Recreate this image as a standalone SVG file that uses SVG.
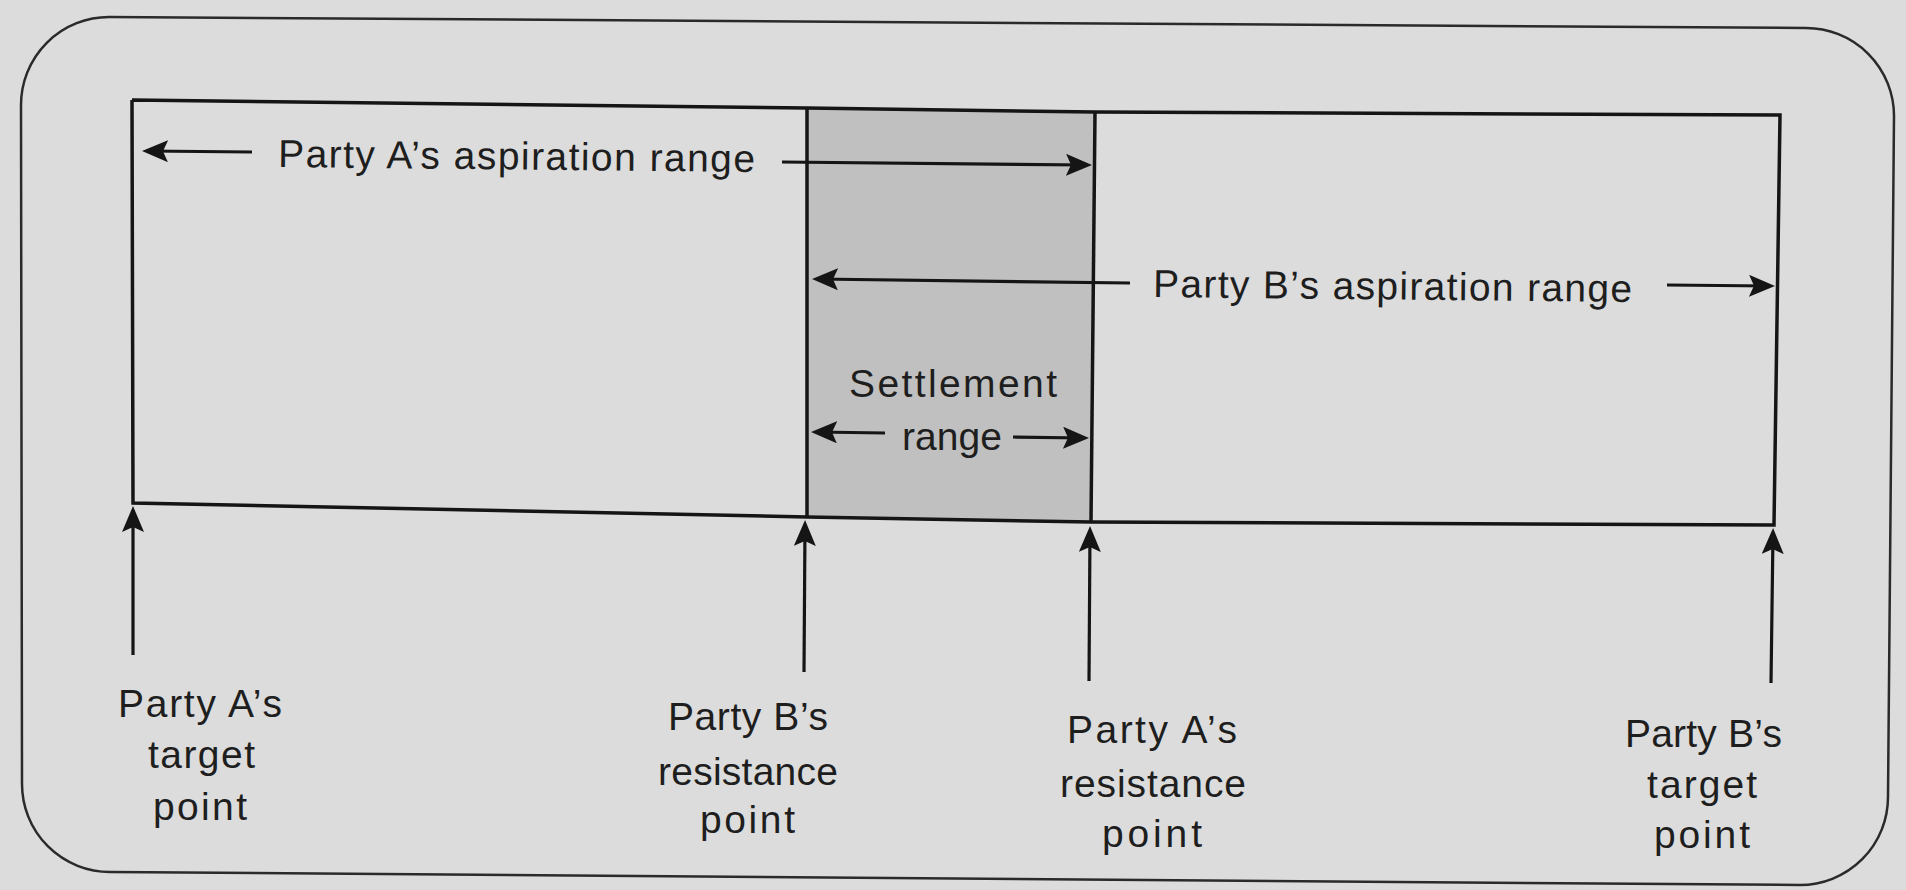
<svg xmlns="http://www.w3.org/2000/svg" width="1906" height="890" viewBox="0 0 1906 890">
  <style>
    .frame { fill: none; stroke: #2a2a2a; stroke-width: 2.5; }
    .edge { fill: none; stroke: #151515; stroke-width: 3.5; stroke-linejoin: miter; }
    .zone { fill: #c0c0c0; stroke: none; }
    .arrow { fill: none; stroke: #151515; stroke-width: 3.2; marker-end: url(#head); }
    .lbl { font-family: "Liberation Sans", Arial, sans-serif; font-size: 39px; fill: #1e1e1e; }
  </style>
  <defs>
    <marker id="head" markerUnits="userSpaceOnUse" markerWidth="28" markerHeight="24" refX="21" refY="11" orient="auto" viewBox="0 0 28 24">
      <path d="M0,0 L26,11 L0,22 L5,11 Z" fill="#151515"/>
    </marker>
  </defs>

  <!-- paper -->
  <rect x="0" y="0" width="1906" height="890" fill="#dcdcdc"/>

  <!-- rounded outer frame -->
  <g id="frame">
    <path class="frame" d="M21,105 A88,88 0 0 1 109,17 L1806,28 A88,88 0 0 1 1894,116 L1888,797 A88,88 0 0 1 1800,885 L110,872 A88,88 0 0 1 22,784 Z"/>
  </g>

  <!-- bargaining bar with the overlap zone -->
  <g id="bar">
    <polygon id="settlement-zone" class="zone" points="807,108 1095,112 1091,522 807,517"/>
    <polyline class="edge" points="132,100 807,108 1095,112 1780,115 1774,525 1091,522 807,517 133,503 132,100"/>
    <line class="edge" x1="807" y1="108" x2="807" y2="517"/>
    <line class="edge" x1="1095" y1="112" x2="1091" y2="522"/>
  </g>

  <!-- range and point arrows -->
  <g id="connectors">
    <line class="arrow" x1="252" y1="152" x2="147" y2="151"/>
    <line class="arrow" x1="782" y1="162" x2="1087" y2="165"/>
    <line class="arrow" x1="1130" y1="283" x2="817" y2="279"/>
    <line class="arrow" x1="1667" y1="285" x2="1770" y2="286"/>
    <line class="arrow" x1="885" y1="433" x2="816" y2="432"/>
    <line class="arrow" x1="1013" y1="437" x2="1084" y2="438"/>
    <line class="arrow" x1="133" y1="655" x2="133" y2="511"/>
    <line class="arrow" x1="804" y1="672" x2="805" y2="525"/>
    <line class="arrow" x1="1089" y1="681" x2="1090" y2="531"/>
    <line class="arrow" x1="1771" y1="683" x2="1773" y2="533"/>
  </g>

  <g id="a-aspiration">
    <text class="lbl" x="278" y="167" textLength="477" transform="rotate(0.6 278 167)">Party A’s aspiration range</text>
  </g>
  <g id="b-aspiration">
    <text class="lbl" x="1153" y="297" textLength="479" transform="rotate(0.6 1153 297)">Party B’s aspiration range</text>
  </g>
  <g id="settlement">
    <text class="lbl" x="849" y="397" textLength="208">Settlement</text>
    <text class="lbl" x="902" y="450" textLength="100">range</text>
  </g>

  <g id="a-target">
    <text class="lbl" x="118" y="717" textLength="164">Party A’s</text>
    <text class="lbl" x="148" y="768" textLength="107">target</text>
    <text class="lbl" x="153" y="820" textLength="94">point</text>
  </g>
  <g id="b-resistance">
    <text class="lbl" x="668" y="730" textLength="160">Party B’s</text>
    <text class="lbl" x="658" y="785" textLength="180">resistance</text>
    <text class="lbl" x="700" y="833" textLength="95">point</text>
  </g>
  <g id="a-resistance">
    <text class="lbl" x="1067" y="743" textLength="170">Party A’s</text>
    <text class="lbl" x="1060" y="797" textLength="186">resistance</text>
    <text class="lbl" x="1102" y="847" textLength="100">point</text>
  </g>
  <g id="b-target">
    <text class="lbl" x="1625" y="747" textLength="157">Party B’s</text>
    <text class="lbl" x="1647" y="798" textLength="110">target</text>
    <text class="lbl" x="1654" y="848" textLength="96">point</text>
  </g>
</svg>
